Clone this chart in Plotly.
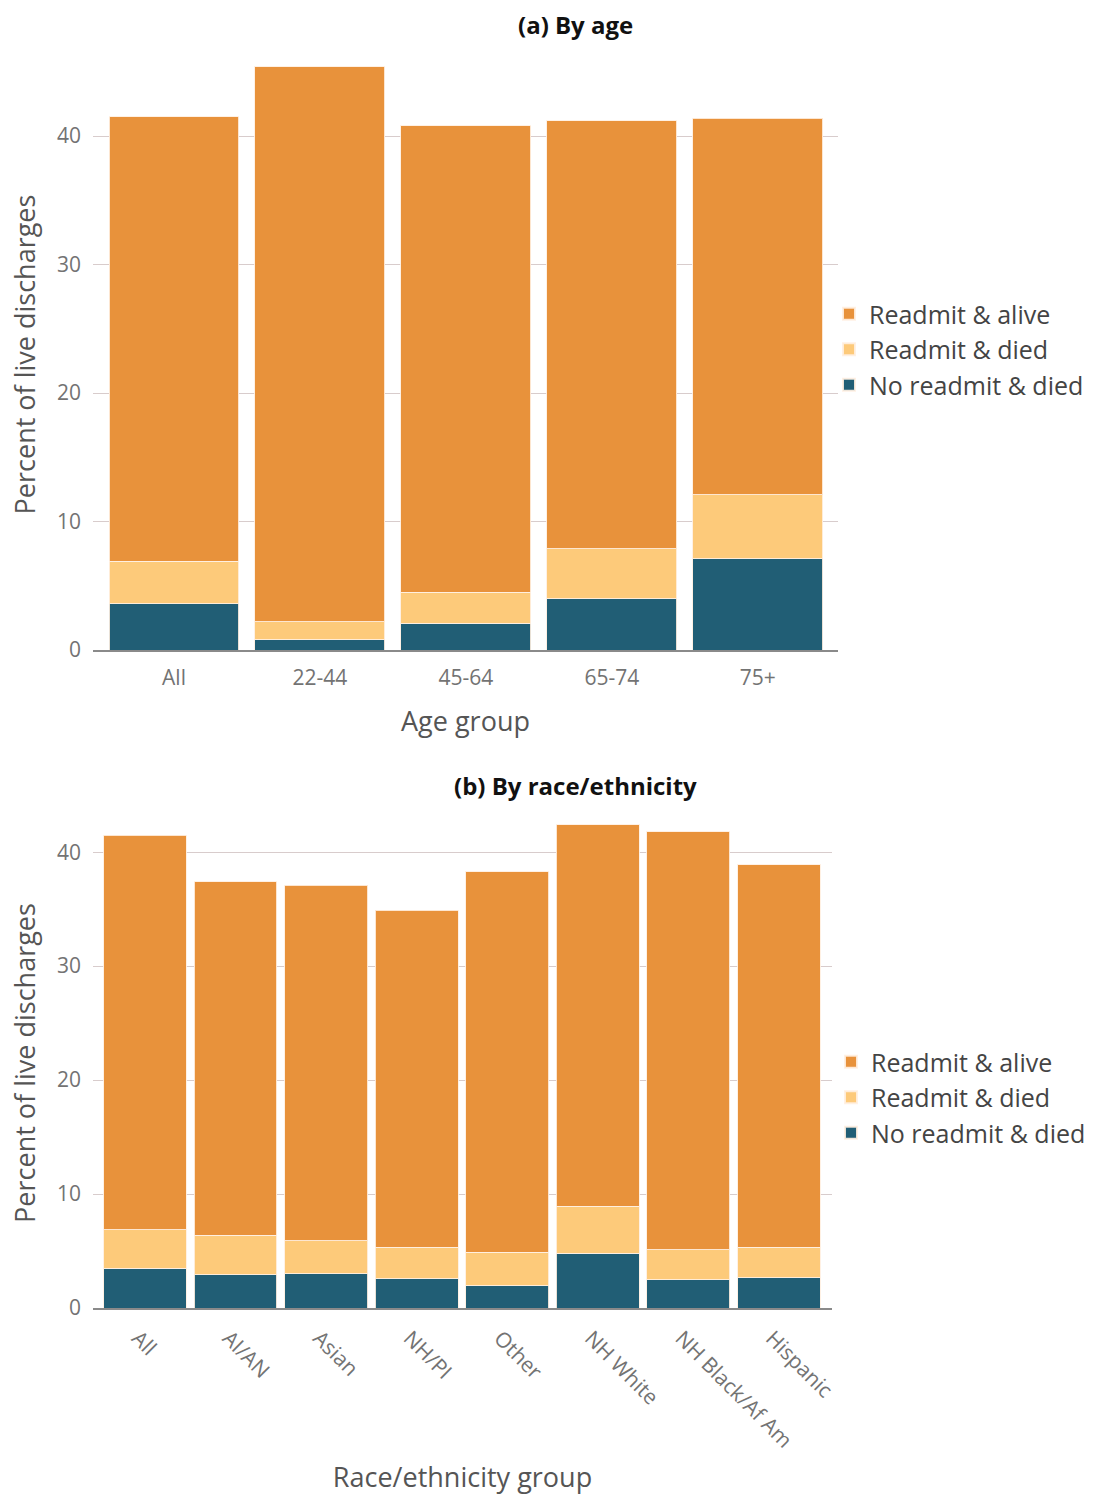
import plotly.graph_objects as go

# ---- Data ----
age_groups = ["All", "22-44", "45-64", "65-74", "75+"]
age_no_readmit_died = [3.6, 0.8, 2.1, 4.0, 7.1]
age_readmit_died = [3.3, 1.4, 2.4, 3.9, 5.0]
age_readmit_alive = [34.6, 43.2, 36.3, 33.3, 29.3]

race_groups = ["All", "AI/AN", "Asian", "NH/PI", "Other", "NH White", "NH Black/Af Am", "Hispanic"]
race_no_readmit_died = [3.5, 2.9, 3.0, 2.55, 1.95, 4.8, 2.5, 2.65]
race_readmit_died = [3.35, 3.5, 2.9, 2.8, 2.95, 4.15, 2.6, 2.7]
race_readmit_alive = [34.65, 31.0, 31.2, 29.55, 33.4, 33.45, 36.7, 33.55]

series_names = ["No readmit & died", "Readmit & died", "Readmit & alive"]
colors = {"No readmit & died": "#215E75", "Readmit & died": "#FDCA7A", "Readmit & alive": "#E8923B"}

y_ticks = [0, 10, 20, 30, 40]

W, H = 1093, 1495
FONT = "Open Sans"

fig = go.Figure()

age_series = [age_no_readmit_died, age_readmit_died, age_readmit_alive]
race_series = [race_no_readmit_died, race_readmit_died, race_readmit_alive]

for name, vals in zip(series_names, age_series):
    fig.add_trace(go.Bar(x=age_groups, y=vals, name=name, xaxis="x", yaxis="y",
                         marker=dict(color=colors[name], line=dict(color="rgba(255,240,225,0.9)", width=1)),
                         width=0.89, legend="legend"))
for name, vals in zip(series_names, race_series):
    fig.add_trace(go.Bar(x=race_groups, y=vals, name=name, xaxis="x2", yaxis="y2",
                         marker=dict(color=colors[name], line=dict(color="rgba(255,240,225,0.9)", width=1)),
                         width=0.915, legend="legend2"))

def px_x(p):
    return p / W

def px_y(p):
    return 1 - p / H

axis_common = dict(
    automargin=False,
    tickfont=dict(family=FONT, size=21, color="#737373"),
    title_font=dict(family=FONT, size=27, color="#555555"),
)
legend_font = dict(family=FONT, size=25, color="#444444")

fig.update_layout(
    width=W, height=H,
    margin=dict(l=0, r=0, t=0, b=0),
    paper_bgcolor="white", plot_bgcolor="white",
    barmode="stack",
    font=dict(family=FONT, color="#444444"),
    xaxis=dict(domain=[px_x(93), px_x(838)], anchor="y", range=[-0.555, 4.55],
               showline=True, linecolor="#8a8a8a", linewidth=1.5, ticks="",
               ticklabelstandoff=8,
               title=dict(text="Age group", standoff=22), **axis_common),
    yaxis=dict(domain=[px_y(650), px_y(59)], anchor="x", range=[0, 46],
               tickvals=y_ticks, showgrid=True, gridcolor="#d8cccc", gridwidth=1,
               zeroline=False, ticks="", ticklabelstandoff=11,
               title=dict(text="Percent of live discharges", standoff=13), **axis_common),
    xaxis2=dict(domain=[px_x(93), px_x(832)], anchor="y2", range=[-0.574, 7.586],
                showline=True, linecolor="#8a8a8a", linewidth=1.5, ticks="",
                tickangle=45, ticklabelstandoff=8, ticklabelshift=-7,
                title=dict(text="Race/ethnicity group", standoff=27), **axis_common),
    yaxis2=dict(domain=[px_y(1308), px_y(818)], anchor="x2", range=[0, 43],
                tickvals=y_ticks, showgrid=True, gridcolor="#d8cccc", gridwidth=1,
                zeroline=False, ticks="", ticklabelstandoff=11,
                title=dict(text="Percent of live discharges", standoff=13), **axis_common),
    legend=dict(x=px_x(829), y=px_y(291), xanchor="left", yanchor="top",
                traceorder="reversed", font=legend_font,
                itemsizing="constant", tracegroupgap=0, bgcolor="rgba(0,0,0,0)"),
    legend2=dict(x=px_x(831), y=px_y(1039), xanchor="left", yanchor="top",
                 traceorder="reversed", font=legend_font,
                 itemsizing="constant", tracegroupgap=0, bgcolor="rgba(0,0,0,0)"),
    annotations=[
        dict(text="<b>(a) By age</b>", x=px_x(575), y=px_y(25), xref="paper", yref="paper",
             xanchor="center", yanchor="middle", showarrow=False,
             font=dict(family=FONT, size=24, color="#111111")),
        dict(text="<b>(b) By race/ethnicity</b>", x=px_x(575), y=px_y(785), xref="paper", yref="paper",
             xanchor="center", yanchor="middle", showarrow=False,
             font=dict(family=FONT, size=24, color="#111111")),
    ],
)

fig.write_html(
    "out.html",
    config={"displayModeBar": False},
    post_script="document.body.style.margin='0';document.documentElement.style.overflow='hidden';document.body.style.overflow='hidden';",
)
